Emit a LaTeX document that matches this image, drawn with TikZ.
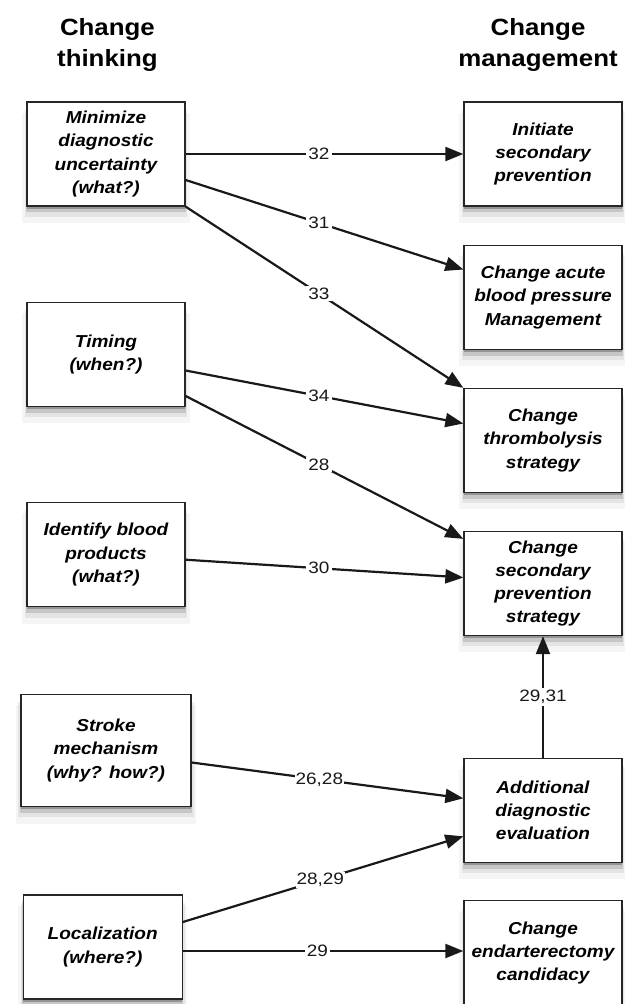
\documentclass[tikz,border=0pt]{standalone}
\usepackage{fontspec}
\setmainfont{Liberation Sans}[FakeStretch=1.1]
\newfontfamily\labelfont{Liberation Sans}[FakeStretch=1.15]
\usetikzlibrary{arrows.meta,shadows}
\begin{document}
\begin{tikzpicture}[x=1pt,y=-1pt,
  softshadow/.style={
    general shadow={fill=black,opacity=0.04,shadow yshift=-13pt,shadow scale=1.06},
    general shadow={fill=black,opacity=0.07,shadow yshift=-9pt,shadow scale=1.03},
    general shadow={fill=black,opacity=0.13,shadow yshift=-5.5pt,shadow scale=1.015},
    general shadow={fill=black,opacity=0.25,shadow yshift=-2.5pt}},
  box/.style={draw=black!85, line width=1.3pt, fill=white, softshadow,
    minimum width=158pt, minimum height=104pt, inner sep=0pt, align=center,
    font=\fontsize{17.3}{23.3}\selectfont\bfseries\itshape},
  hdr/.style={anchor=base, inner sep=0pt, font=\fontsize{23.5}{32}\selectfont\bfseries},
  arr/.style={line width=2.2pt, black!90, -{Triangle[length=18pt,width=14pt]}},
  lbl/.style={fill=white, inner sep=2pt, text=black!90, font=\labelfont\fontsize{16.5}{18}\selectfont}]
\useasboundingbox (0,0) rectangle (624,1004);

% headers
\node[hdr] (h1a) at (107.4,35) {Change};
\node[hdr] (h1b) at (107.4,66.7) {thinking};
\node[hdr] (h2a) at (538,35) {Change};
\node[hdr] (h2b) at (538,66.7) {management};

% left boxes
\node[box] (L1) at (106,154) {Minimize\\diagnostic\\uncertainty\\(what?)};
\node[box] (L2) at (106,354.5) {Timing\\(when?)};
\node[box] (L3) at (106,554.7) {Identify blood\\products\\(what?)};
\node[box, minimum width=170pt, minimum height=112pt] (L4) at (106,750.5) {Stroke\\mechanism\\(why? how?)};
\node[box, minimum width=159pt] (L5) at (102.7,947) {Localization\\(where?)};

% right boxes
\node[box] (R1) at (543,154) {Initiate\\secondary\\prevention};
\node[box] (R2) at (543,297.5) {Change acute\\blood pressure\\Management};
\node[box] (R3) at (543,440.5) {Change\\thrombolysis\\strategy};
\node[box] (R4) at (543,583.5) {Change\\secondary\\prevention\\strategy};
\node[box] (R5) at (543,810.3) {Additional\\diagnostic\\evaluation};
\node[box, minimum height=105pt] (R6) at (543,953) {Change\\endarterectomy\\candidacy};

% connectors
\draw[arr] (L1.east) -- node[lbl,pos=.48]{32} (R1.west);
\draw[arr] ([yshift=-26pt]L1.east) -- node[lbl,pos=.48]{31} ([yshift=28pt]R2.west);
\draw[arr] (L1.south east) -- node[lbl,pos=.48]{33} (R3.north west);
\draw[arr] ([yshift=-16pt]L2.east) -- node[lbl,pos=.48]{34} ([yshift=17pt]R3.west);
\draw[arr] ([yshift=-41.5pt]L2.east) -- node[lbl,pos=.48]{28} ([yshift=-8pt]R4.north west);
\draw[arr] ([yshift=-5pt]L3.east) -- node[lbl,pos=.48]{30} ([yshift=6pt]R4.west);
\draw[arr] (R5.north) -- node[lbl,pos=.5]{29,31} (R4.south);
\draw[arr] ([yshift=-12pt]L4.east) -- node[lbl,pos=.47,inner sep=1pt]{26,28} ([yshift=12pt]R5.west);
\draw[arr] ([yshift=25pt]L5.east) -- node[lbl,pos=.49,inner sep=1pt]{28,29} ([yshift=-26pt]R5.west);
\draw[arr] ([yshift=-4pt]L5.east) -- node[lbl,pos=.48]{29} ([yshift=2pt]R6.west);
\end{tikzpicture}
\end{document}
